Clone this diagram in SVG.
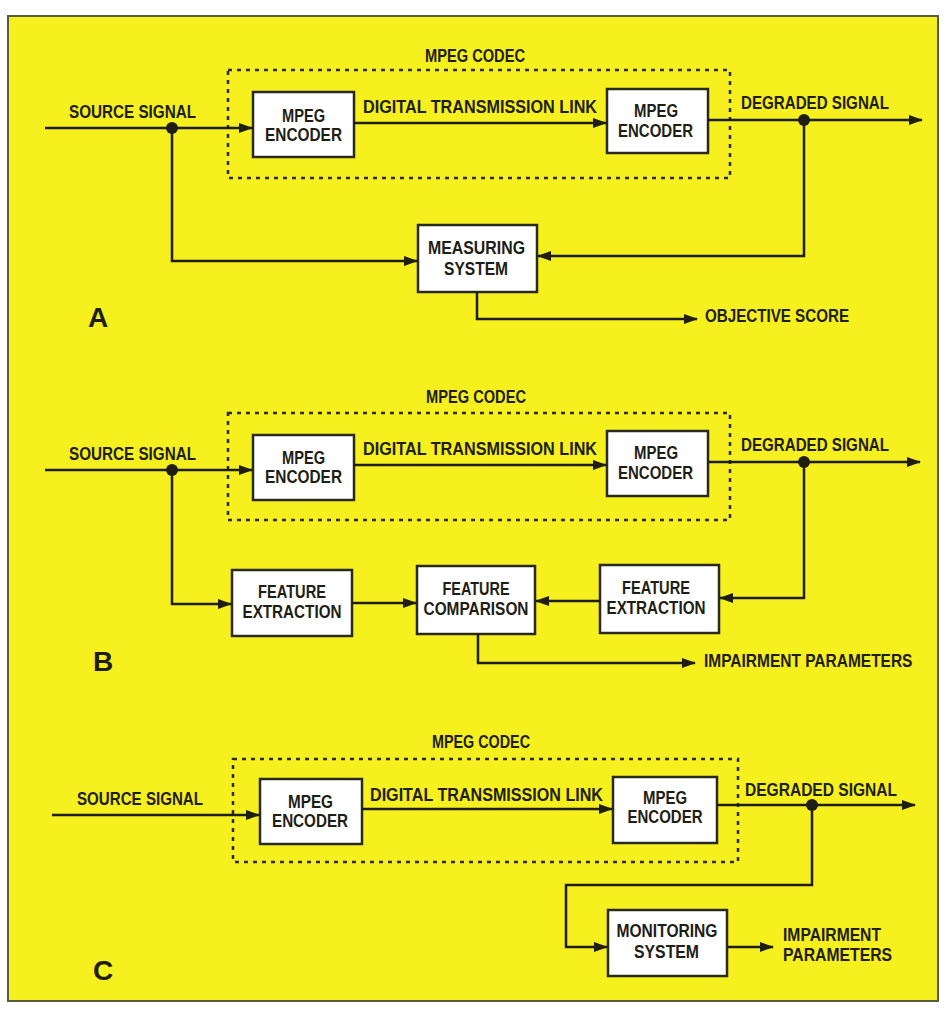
<svg xmlns="http://www.w3.org/2000/svg" width="948" height="1010" viewBox="0 0 948 1010">
<defs>
<marker id="ah" markerUnits="userSpaceOnUse" markerWidth="14" markerHeight="10" refX="13" refY="5" orient="auto">
<path d="M0,0 L14,5 L0,10 Z" fill="#1e1e14"/>
</marker>
</defs>
<style>
.panel{fill:#f7f01f;stroke:#5a5a40;stroke-width:2}
.box{fill:#ffffff;stroke:#2a2a1a;stroke-width:2.5}
.codec{fill:none;stroke:#2a2a1a;stroke-width:2.5;stroke-dasharray:4 5}
.w{fill:none;stroke:#1e1e14;stroke-width:2.5;marker-end:url(#ah)}
.dot{fill:#1e1e14}
text{font-family:"Liberation Sans",Arial,sans-serif;font-weight:bold;fill:#1e1e14;font-size:19px}
.n{text-anchor:middle}
.big{font-size:28px}
</style>
<rect width="948" height="1010" fill="#ffffff"/>
<rect class="panel" x="8" y="16" width="930" height="985"/>

<!-- Section A -->
<g id="A-label"><text class="big" x="88" y="327">A</text></g>
<g id="A-codec"><rect class="codec" x="228" y="70" width="502" height="108"/><text class="n" x="475" y="62" textLength="100" lengthAdjust="spacingAndGlyphs">MPEG CODEC</text></g>
<g id="A-enc1"><rect class="box" x="253" y="92" width="101" height="65"/><text class="n" x="303.5" y="122" textLength="43" lengthAdjust="spacingAndGlyphs">MPEG</text><text class="n" x="303.5" y="141" textLength="77" lengthAdjust="spacingAndGlyphs">ENCODER</text></g>
<g id="A-enc2"><rect class="box" x="607" y="89" width="101" height="64"/><text class="n" x="656" y="117" textLength="44" lengthAdjust="spacingAndGlyphs">MPEG</text><text class="n" x="655.5" y="137" textLength="75" lengthAdjust="spacingAndGlyphs">ENCODER</text></g>
<g id="A-meas"><rect class="box" x="418" y="225" width="119" height="67"/><text class="n" x="476.5" y="254" textLength="97" lengthAdjust="spacingAndGlyphs">MEASURING</text><text class="n" x="476" y="275" textLength="64" lengthAdjust="spacingAndGlyphs">SYSTEM</text></g>
<g id="A-labels">
<text class="n" x="132.5" y="118" textLength="127" lengthAdjust="spacingAndGlyphs">SOURCE SIGNAL</text>
<text class="n" x="480" y="113" textLength="234" lengthAdjust="spacingAndGlyphs">DIGITAL TRANSMISSION LINK</text>
<text class="n" x="815" y="109" textLength="148" lengthAdjust="spacingAndGlyphs">DEGRADED SIGNAL</text>
<text x="705" y="322" textLength="144" lengthAdjust="spacingAndGlyphs">OBJECTIVE SCORE</text>
</g>

<!-- Section B -->
<g id="B-label"><text class="big" x="93" y="671">B</text></g>
<g id="B-codec"><rect class="codec" x="228" y="413" width="502" height="107"/><text class="n" x="476" y="403" textLength="100" lengthAdjust="spacingAndGlyphs">MPEG CODEC</text></g>
<g id="B-enc1"><rect class="box" x="253" y="435" width="101" height="65"/><text class="n" x="303.5" y="464" textLength="43" lengthAdjust="spacingAndGlyphs">MPEG</text><text class="n" x="303.5" y="483" textLength="77" lengthAdjust="spacingAndGlyphs">ENCODER</text></g>
<g id="B-enc2"><rect class="box" x="607" y="431" width="101" height="65"/><text class="n" x="656" y="459" textLength="44" lengthAdjust="spacingAndGlyphs">MPEG</text><text class="n" x="655.5" y="479" textLength="75" lengthAdjust="spacingAndGlyphs">ENCODER</text></g>
<g id="B-fe1"><rect class="box" x="232" y="570" width="120" height="66"/><text class="n" x="292" y="598" textLength="68" lengthAdjust="spacingAndGlyphs">FEATURE</text><text class="n" x="292" y="618" textLength="99" lengthAdjust="spacingAndGlyphs">EXTRACTION</text></g>
<g id="B-fc"><rect class="box" x="417" y="566" width="118" height="68"/><text class="n" x="476" y="595" textLength="67" lengthAdjust="spacingAndGlyphs">FEATURE</text><text class="n" x="476" y="615" textLength="105" lengthAdjust="spacingAndGlyphs">COMPARISON</text></g>
<g id="B-fe2"><rect class="box" x="600" y="565" width="119" height="68"/><text class="n" x="656" y="594" textLength="68" lengthAdjust="spacingAndGlyphs">FEATURE</text><text class="n" x="656" y="614" textLength="99" lengthAdjust="spacingAndGlyphs">EXTRACTION</text></g>
<g id="B-labels">
<text class="n" x="132.5" y="460" textLength="127" lengthAdjust="spacingAndGlyphs">SOURCE SIGNAL</text>
<text class="n" x="480" y="455" textLength="234" lengthAdjust="spacingAndGlyphs">DIGITAL TRANSMISSION LINK</text>
<text class="n" x="815" y="451" textLength="148" lengthAdjust="spacingAndGlyphs">DEGRADED SIGNAL</text>
<text x="0" y="0" transform="translate(704,667) scale(0.815,1)">IMPAIRMENT PARAMETERS</text>
</g>

<!-- Section C -->
<g id="C-label"><text class="big" x="93" y="980">C</text></g>
<g id="C-codec"><rect class="codec" x="233" y="759" width="505" height="103"/><text class="n" x="481" y="748" textLength="98" lengthAdjust="spacingAndGlyphs">MPEG CODEC</text></g>
<g id="C-enc1"><rect class="box" x="260" y="779" width="102" height="65"/><text class="n" x="310.5" y="808" textLength="45" lengthAdjust="spacingAndGlyphs">MPEG</text><text class="n" x="310" y="827" textLength="76" lengthAdjust="spacingAndGlyphs">ENCODER</text></g>
<g id="C-enc2"><rect class="box" x="613" y="777" width="104" height="66"/><text class="n" x="665" y="804" textLength="44" lengthAdjust="spacingAndGlyphs">MPEG</text><text class="n" x="665" y="823" textLength="75" lengthAdjust="spacingAndGlyphs">ENCODER</text></g>
<g id="C-mon"><rect class="box" x="608" y="910" width="119" height="66"/><text class="n" x="667" y="937" textLength="101" lengthAdjust="spacingAndGlyphs">MONITORING</text><text class="n" x="666.5" y="958" textLength="65" lengthAdjust="spacingAndGlyphs">SYSTEM</text></g>
<g id="C-labels">
<text class="n" x="140" y="805" textLength="126" lengthAdjust="spacingAndGlyphs">SOURCE SIGNAL</text>
<text class="n" x="486.5" y="801" textLength="233" lengthAdjust="spacingAndGlyphs">DIGITAL TRANSMISSION LINK</text>
<text class="n" x="821" y="796" textLength="152" lengthAdjust="spacingAndGlyphs">DEGRADED SIGNAL</text>
<text x="783" y="941" textLength="98" lengthAdjust="spacingAndGlyphs">IMPAIRMENT</text>
<text x="783" y="961" textLength="109" lengthAdjust="spacingAndGlyphs">PARAMETERS</text>
</g>

<g id="connectors">
<path class="w" d="M45,128 H252"/>
<path class="w" d="M354,123 H606"/>
<path class="w" d="M708,120 H922"/>
<path class="w" d="M172,128 V261 H417"/>
<path class="w" d="M804,120 V256 H538"/>
<path class="w" d="M477,292 V319 H697"/>
<path class="w" d="M45,470 H252"/>
<path class="w" d="M354,465 H606"/>
<path class="w" d="M708,462 H920"/>
<path class="w" d="M172,470 V604 H231"/>
<path class="w" d="M352,603 H416"/>
<path class="w" d="M600,601 H536"/>
<path class="w" d="M804,462 V598 H720"/>
<path class="w" d="M478,634 V663 H695"/>
<path class="w" d="M52,815 H259"/>
<path class="w" d="M362,809 H612"/>
<path class="w" d="M717,805 H915"/>
<path class="w" d="M812,805 V885 H566 V947 H607"/>
<path class="w" d="M727,947 H773"/>
<circle class="dot" cx="172" cy="128" r="6"/>
<circle class="dot" cx="804" cy="120" r="6"/>
<circle class="dot" cx="172" cy="470" r="6"/>
<circle class="dot" cx="804" cy="462" r="6"/>
<circle class="dot" cx="812" cy="805" r="6"/>
</g>
</svg>
